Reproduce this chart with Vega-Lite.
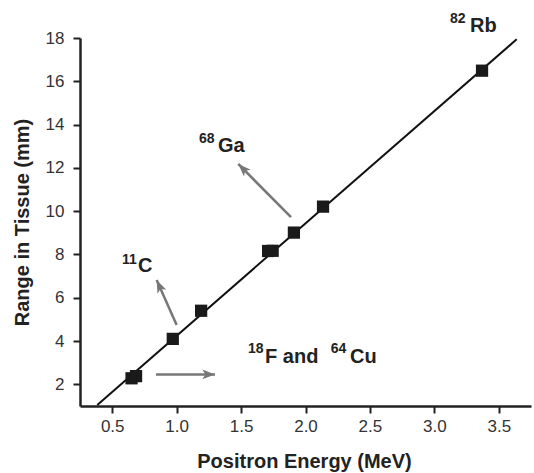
{
  "$schema": "https://vega.github.io/schema/vega-lite/v6.json",
  "width": 451,
  "height": 368,
  "autosize": "none",
  "padding": {"left": 80, "top": 38, "right": 3, "bottom": 67},
  "background": "white",
  "config": {
    "font": "Liberation Sans",
    "view": {"stroke": null},
    "axis": {"grid": false, "labelOverlap": false, "labelFlush": false, "domainColor": "#222", "domainWidth": 2.5, "tickColor": "#222", "tickWidth": 2, "labelColor": "#333", "labelFont": "Liberation Sans", "labelFontSize": 17, "titleFont": "Liberation Sans", "titleFontSize": 20, "titleFontWeight": "bold", "titleColor": "#222"}
  },
  "datasets": {
    "points": [
      {"energy": 0.65, "range": 2.28},
      {"energy": 0.685, "range": 2.38},
      {"energy": 0.97, "range": 4.1},
      {"energy": 1.19, "range": 5.4},
      {"energy": 1.71, "range": 8.16},
      {"energy": 1.745, "range": 8.17},
      {"energy": 1.91, "range": 9.01},
      {"energy": 2.136, "range": 10.21},
      {"energy": 3.37, "range": 16.49}
    ],
    "fit": [
      {"energy": 0.384, "range": 1.05},
      {"energy": 3.639, "range": 17.94}
    ],
    "mainLabels": [
      {"text": "Rb", "energy": 3.277, "range": 18.28},
      {"text": "Ga", "energy": 1.321, "range": 12.73},
      {"text": "C", "energy": 0.7, "range": 7.19},
      {"text": "F and", "energy": 1.686, "range": 2.99},
      {"text": "Cu", "energy": 2.345, "range": 2.99}
    ],
    "supLabels": [
      {"text": "82", "energy": 3.121, "range": 18.69},
      {"text": "68", "energy": 1.173, "range": 13.15},
      {"text": "11", "energy": 0.576, "range": 7.56},
      {"text": "18", "energy": 1.554, "range": 3.45},
      {"text": "64", "energy": 2.195, "range": 3.45}
    ],
    "arrows": [
      {"arrow": "Ga", "x0": 1.8875, "y0": 9.72, "x1": 1.4785, "y1": 12.18},
      {"arrow": "C", "x0": 1.0, "y0": 4.74, "x1": 0.845, "y1": 6.82},
      {"arrow": "F", "x0": 0.84, "y0": 2.46, "x1": 1.298, "y1": 2.46}
    ]
  },
  "layer": [
    {
      "data": {"name": "fit"},
      "mark": {"type": "line", "color": "#111", "strokeWidth": 2},
      "encoding": {
        "x": {"field": "energy", "type": "quantitative", "scale": {"domain": [0.25, 3.75], "nice": false, "zero": false},
          "axis": {"title": "Positron Energy (MeV)", "values": [0.5, 0.75, 1.0, 1.25, 1.5, 1.75, 2.0, 2.25, 2.5, 2.75, 3.0, 3.25, 3.5],
            "format": ".2f",
            "labelExpr": "(datum.value * 4) % 2 == 0 ? format(datum.value, '.1f') : ''",
            "tickSize": 7, "labelPadding": 5,
            "titleX": 224, "titleY": 61, "titleBaseline": "alphabetic", "titleAlign": "center"}},
        "y": {"field": "range", "type": "quantitative", "scale": {"domain": [1, 18], "nice": false, "zero": false},
          "axis": {"title": "Range in Tissue (mm)", "values": [2, 3, 4, 5, 6, 7, 8, 9, 10, 11, 12, 13, 14, 15, 16, 17, 18],
            "labelExpr": "datum.value % 2 == 0 ? datum.label : ''",
            "tickSize": 7, "labelPadding": 9,
            "titleX": -58, "titleY": 184, "titleBaseline": "middle", "titleAlign": "center", "titleAngle": -90}}
      }
    },
    {
      "data": {"name": "points"},
      "mark": {"type": "point", "shape": "square", "filled": true, "size": 150, "color": "#1a1a1a", "opacity": 1},
      "encoding": {
        "x": {"field": "energy", "type": "quantitative"},
        "y": {"field": "range", "type": "quantitative"}
      }
    },
    {
      "data": {"name": "arrows"},
      "mark": {"type": "rule", "color": "#777", "strokeWidth": 2.5},
      "encoding": {
        "x": {"field": "x0", "type": "quantitative"},
        "y": {"field": "y0", "type": "quantitative"},
        "x2": {"field": "x1"},
        "y2": {"field": "y1"}
      }
    },
    {
      "data": {"name": "arrows"},
      "transform": [{"filter": "datum.arrow == 'Ga'"}],
      "mark": {"type": "point", "shape": "M0,0L0.6,1.6L0,1.2L-0.6,1.6Z", "filled": true, "size": 256, "color": "#777", "opacity": 1, "angle": -45},
      "encoding": {
        "x": {"field": "x1", "type": "quantitative"},
        "y": {"field": "y1", "type": "quantitative"}
      }
    },
    {
      "data": {"name": "arrows"},
      "transform": [{"filter": "datum.arrow == 'C'"}],
      "mark": {"type": "point", "shape": "M0,0L0.6,1.6L0,1.2L-0.6,1.6Z", "filled": true, "size": 256, "color": "#777", "opacity": 1, "angle": -24},
      "encoding": {
        "x": {"field": "x1", "type": "quantitative"},
        "y": {"field": "y1", "type": "quantitative"}
      }
    },
    {
      "data": {"name": "arrows"},
      "transform": [{"filter": "datum.arrow == 'F'"}],
      "mark": {"type": "point", "shape": "M0,0L0.6,1.6L0,1.2L-0.6,1.6Z", "filled": true, "size": 256, "color": "#777", "opacity": 1, "angle": 90},
      "encoding": {
        "x": {"field": "x1", "type": "quantitative"},
        "y": {"field": "y1", "type": "quantitative"}
      }
    },
    {
      "data": {"name": "mainLabels"},
      "mark": {"type": "text", "align": "left", "baseline": "alphabetic", "fontSize": 20, "fontWeight": "bold", "color": "#222", "font": "Liberation Sans"},
      "encoding": {
        "x": {"field": "energy", "type": "quantitative"},
        "y": {"field": "range", "type": "quantitative"},
        "text": {"field": "text"}
      }
    },
    {
      "data": {"name": "supLabels"},
      "mark": {"type": "text", "align": "left", "baseline": "alphabetic", "fontSize": 14, "fontWeight": "bold", "color": "#222", "font": "Liberation Sans"},
      "encoding": {
        "x": {"field": "energy", "type": "quantitative"},
        "y": {"field": "range", "type": "quantitative"},
        "text": {"field": "text"}
      }
    }
  ]
}
